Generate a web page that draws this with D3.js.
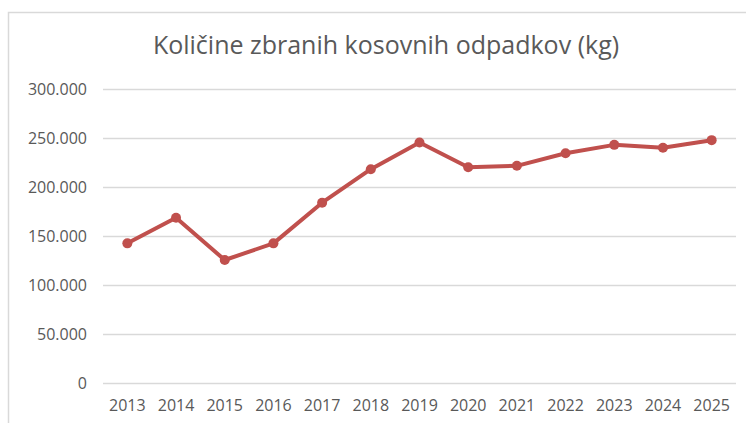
<!DOCTYPE html>
<html>
<head>
<meta charset="utf-8">
<script src="https://cdn.jsdelivr.net/npm/d3@7"></script>
<style>
  body { margin: 0; background: #fff; }
  svg { display: block; }
</style>
</head>
<body>
<div id="chart"></div>
<script>
const years = ['2013', '2014', '2015', '2016', '2017', '2018', '2019', '2020', '2021', '2022', '2023', '2024', '2025'];
const amounts = [142500, 168700, 125500, 142500, 184000, 218200, 245400, 220200, 221600, 234500, 243000, 240000, 247800];
const yTicks = [0, 50000, 100000, 150000, 200000, 250000, 300000];
const title = 'Količine zbranih kosovnih odpadkov (kg)';

const W = 746, H = 423;
const margin = { top: 89, right: 10, bottom: 40, left: 103 };
const fontFamily = '"Open Sans", Lato, sans-serif';
const textColor = '#595959';
const gridColor = '#d9d9d9';
const lineColor = '#c0504d';

const svg = d3.select('#chart').append('svg')
  .attr('width', W)
  .attr('height', H);

// chart area frame (only top and left edges are visible in the crop)
svg.append('rect')
  .attr('x', 8.5).attr('y', 12.5)
  .attr('width', W + 10).attr('height', H + 10)
  .attr('fill', '#fff')
  .attr('stroke', gridColor)
  .attr('stroke-width', 1.5);

const x = d3.scaleBand()
  .domain(years)
  .range([margin.left, 736])
  .padding(0);

const y = d3.scaleLinear()
  .domain([0, 300000])
  .range([383, margin.top]);

const fmt = v => v === 0 ? '0' : d3.format(',')(v).replace(/,/g, '.');

// gridlines
svg.append('g')
  .selectAll('line')
  .data(yTicks)
  .join('line')
  .attr('x1', margin.left)
  .attr('x2', 736)
  .attr('y1', d => Math.round(y(d)) + 0.5)
  .attr('y2', d => Math.round(y(d)) + 0.5)
  .attr('stroke', gridColor)
  .attr('stroke-width', 1.3);

// y labels
svg.append('g')
  .selectAll('text')
  .data(yTicks)
  .join('text')
  .attr('x', 87)
  .attr('y', d => y(d))
  .attr('dy', '0.35em')
  .attr('text-anchor', 'end')
  .style('font-family', fontFamily)
  .style('font-size', '16px')
  .style('fill', textColor)
  .text(fmt);

// x labels
svg.append('g')
  .selectAll('text')
  .data(years)
  .join('text')
  .attr('x', d => x(d) + x.bandwidth() / 2)
  .attr('y', 411)
  .attr('text-anchor', 'middle')
  .style('font-family', fontFamily)
  .style('font-size', '16px')
  .style('fill', textColor)
  .text(d => d);

// title
svg.append('text')
  .attr('x', 386)
  .attr('y', 54)
  .attr('text-anchor', 'middle')
  .style('font-family', fontFamily)
  .style('font-size', '25px')
  .style('fill', textColor)
  .text(title);

const line = d3.line()
  .x((d, i) => x(years[i]) + x.bandwidth() / 2)
  .y(d => y(d));

svg.append('path')
  .datum(amounts)
  .attr('d', line)
  .attr('fill', 'none')
  .attr('stroke', lineColor)
  .attr('stroke-width', 4)
  .attr('stroke-linejoin', 'round');

svg.append('g')
  .selectAll('circle')
  .data(amounts)
  .join('circle')
  .attr('cx', (d, i) => x(years[i]) + x.bandwidth() / 2)
  .attr('cy', d => y(d))
  .attr('r', 5)
  .attr('fill', lineColor);
</script>
</body>
</html>
